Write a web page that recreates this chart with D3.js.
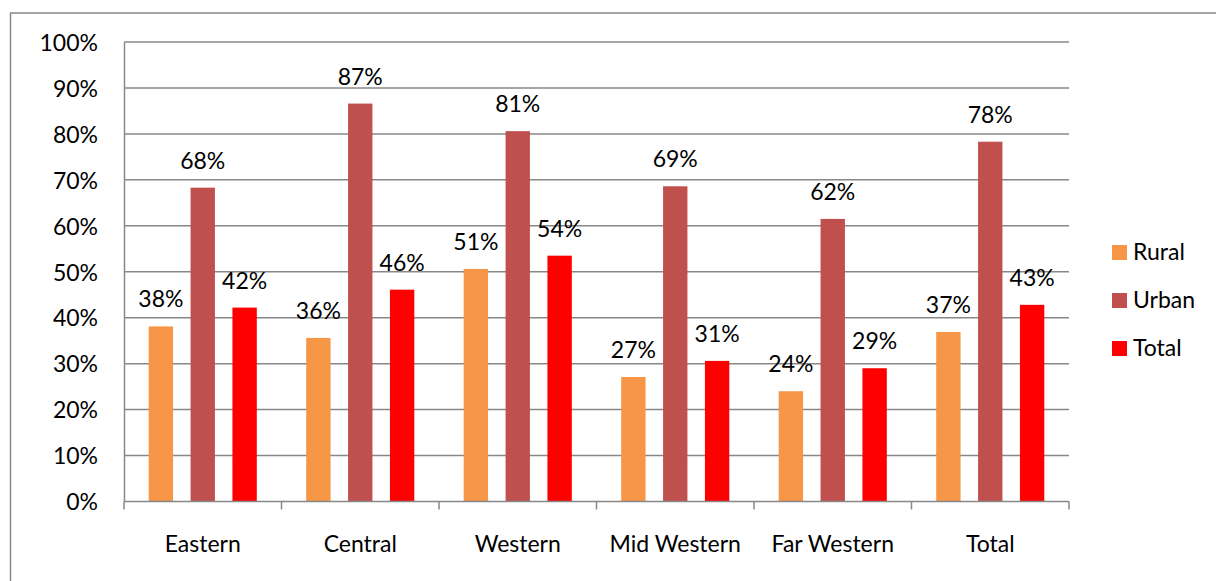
<!DOCTYPE html>
<html>
<head>
<meta charset="utf-8">
<script src="https://cdn.jsdelivr.net/npm/d3@7"></script>
<style>
  html, body { margin: 0; padding: 0; background: #fff; }
  svg { display: block; }
  text { font-family: Lato, "Open Sans", sans-serif; fill: #000; }
</style>
</head>
<body>
<svg id="chart" width="1216" height="581"></svg>
<script>
// Regions along the x axis
const categories = ["Eastern", "Central", "Western", "Mid Western", "Far Western", "Total"];
// Share (%) for each series, one value per region
const rural = [38.1, 35.6, 50.6, 27.1, 24.0, 36.9];
const urban = [68.3, 86.6, 80.6, 68.6, 61.5, 78.3];
const total = [42.2, 46.1, 53.5, 30.6, 29.0, 42.8];
const seriesNames = ["Rural", "Urban", "Total"];
const seriesColors = ["#F79646", "#C0504D", "#FF0000"];
const yTicks = [0, 10, 20, 30, 40, 50, 60, 70, 80, 90, 100];

const seriesValues = [rural, urban, total];
const rows = categories.map((c, i) => ({
  category: c,
  values: seriesNames.map((s, j) => ({ series: s, value: seriesValues[j][i], color: seriesColors[j] }))
}));

const svg = d3.select("#chart");
const gridColor = "#888888";
const fontSize = 23;
const plot = { left: 124, right: 1069, top: 42, bottom: 501.5 };

// Outer chart frame
svg.append("rect")
  .attr("x", 10.5).attr("y", 13)
  .attr("width", 1230).attr("height", 600)
  .attr("fill", "none").attr("stroke", gridColor).attr("stroke-width", 1.5);

const x0 = d3.scaleBand().domain(categories).range([plot.left, plot.right]).paddingInner(0).paddingOuter(0);
const groupPad = 24.7;
const x1 = d3.scaleBand().domain(seriesNames)
  .range([groupPad, x0.bandwidth() - groupPad]).paddingInner(0.418).paddingOuter(0);
const y = d3.scaleLinear().domain([0, 100]).range([plot.bottom, plot.top]);

// Horizontal gridlines
svg.append("g").selectAll("line").data(yTicks.filter(t => t > 0)).join("line")
  .attr("x1", plot.left).attr("x2", plot.right)
  .attr("y1", d => y(d)).attr("y2", d => y(d))
  .attr("stroke", gridColor).attr("stroke-width", 1.5);

// Y axis with percentage labels
const yAxis = d3.axisLeft(y).tickValues(yTicks).tickSize(0).tickPadding(26).tickFormat(d => d + "%");
const gy = svg.append("g").attr("transform", `translate(${plot.left},0)`).call(yAxis);
gy.select(".domain").attr("stroke", gridColor).attr("stroke-width", 1.5);
gy.selectAll(".tick text").attr("font-size", fontSize).attr("font-family", "Lato, sans-serif").attr("fill", "#000").attr("dy", "0.36em");

// Bars
const groups = svg.append("g").selectAll("g").data(rows).join("g")
  .attr("transform", d => `translate(${x0(d.category)},0)`);
groups.selectAll("rect").data(d => d.values).join("rect")
  .attr("x", d => x1(d.series))
  .attr("width", x1.bandwidth())
  .attr("y", d => y(d.value))
  .attr("height", d => y(0) - y(d.value))
  .attr("fill", d => d.color);

// Value labels above the bars
groups.selectAll("text").data(d => d.values).join("text")
  .attr("x", d => x1(d.series) + x1.bandwidth() / 2)
  .attr("y", d => y(d.value) - 19)
  .attr("text-anchor", "middle")
  .attr("font-size", fontSize)
  .text(d => Math.round(d.value) + "%");

// X axis with ticks between regions
const boundaries = categories.map(c => x0(c)).concat([plot.right]);
const gx = svg.append("g");
gx.append("line")
  .attr("x1", plot.left).attr("x2", plot.right)
  .attr("y1", plot.bottom).attr("y2", plot.bottom)
  .attr("stroke", gridColor).attr("stroke-width", 1.5);
gx.selectAll("line.tick").data(boundaries).join("line")
  .attr("class", "tick")
  .attr("x1", d => d).attr("x2", d => d)
  .attr("y1", plot.bottom).attr("y2", plot.bottom + 8)
  .attr("stroke", gridColor).attr("stroke-width", 1.5);
gx.selectAll("text").data(categories).join("text")
  .attr("x", d => x0(d) + x0.bandwidth() / 2)
  .attr("y", 552)
  .attr("text-anchor", "middle")
  .attr("font-size", fontSize)
  .text(d => d);

// Legend
const legend = svg.append("g").selectAll("g").data(seriesNames).join("g")
  .attr("transform", (d, i) => `translate(1112,${245 + i * 48})`);
legend.append("rect")
  .attr("width", 15).attr("height", 15)
  .attr("fill", (d, i) => seriesColors[i]);
legend.append("text")
  .attr("x", 21).attr("y", 15)
  .attr("font-size", fontSize)
  .text(d => d);
</script>
</body>
</html>
